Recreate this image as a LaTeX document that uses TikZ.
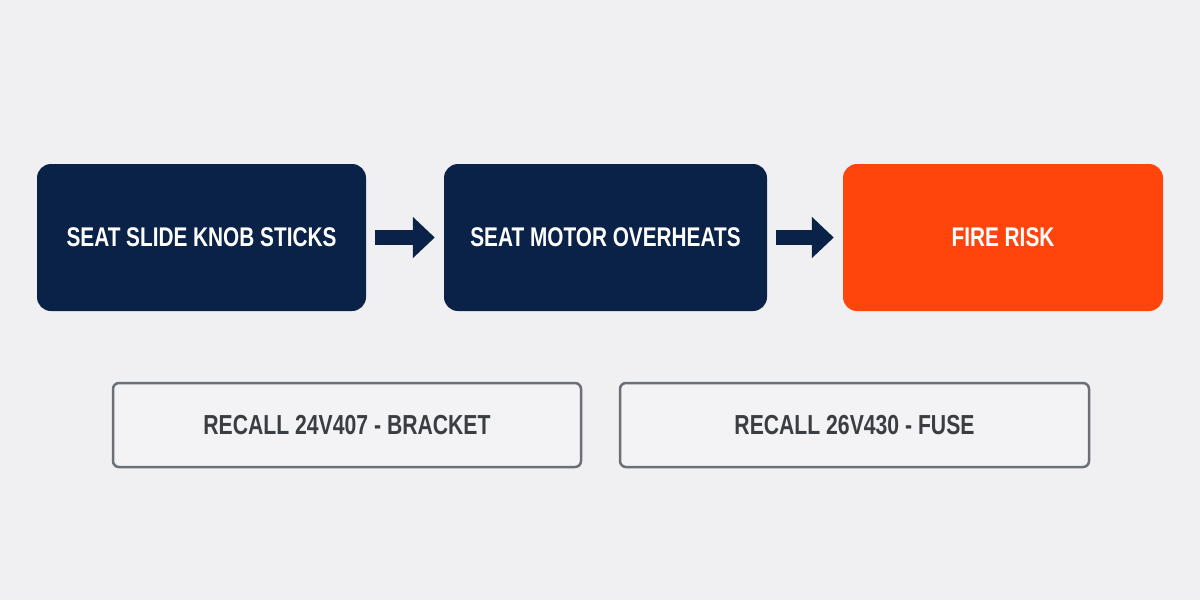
\documentclass[tikz,border=0pt]{standalone}
\usepackage{fontspec}
\setmainfont{Liberation Sans}
\newfontfamily\condfont[FakeStretch=0.77]{Liberation Sans}
\usetikzlibrary{arrows.meta}
\definecolor{bgc}{HTML}{F0F0F2}
\definecolor{navy}{HTML}{0A2248}
\definecolor{fireor}{HTML}{FF450B}
\definecolor{recallgray}{HTML}{6B7078}
\definecolor{recalltext}{HTML}{3A3D42}
\definecolor{recallfill}{HTML}{F3F3F5}
\tikzset{
  stepbox/.style={rounded corners=14pt, inner sep=0pt, minimum height=147pt,
    text=white, font=\condfont\bfseries\fontsize{27}{30}\selectfont},
  navybox/.style={stepbox, fill=navy},
  firebox/.style={stepbox, fill=fireor},
  recallbox/.style={rounded corners=6pt, draw=recallgray, line width=2.5pt, fill=recallfill,
    minimum width=468pt, minimum height=84pt, inner sep=0pt,
    text=recalltext, font=\condfont\bfseries\fontsize{27.5}{30}\selectfont},
  flowarrow/.style={draw=navy, line width=15pt, shorten <=9pt, shorten >=9pt,
    -{Triangle[length=22pt,width=40pt]}}
}
\begin{document}
\begin{tikzpicture}[x=1pt,y=-1pt]
\fill[bgc] (0,0) rectangle (1200,600);
\useasboundingbox (0,0) rectangle (1200,600);
\node[navybox, minimum width=329pt] (a) at (201.5,237.5) {SEAT SLIDE KNOB STICKS};
\node[navybox, minimum width=323pt] (b) at (605.5,237.5) {SEAT MOTOR OVERHEATS};
\node[firebox, minimum width=320pt] (c) at (1003,237.5) {FIRE RISK};
\draw[flowarrow] (a.east) -- (b.west);
\draw[flowarrow] (b.east) -- (c.west);
\node[recallbox] (r1) at (347,425) {RECALL 24V407 - BRACKET};
\node[recallbox, minimum width=469pt] (r2) at (854.5,425) {RECALL 26V430 - FUSE};
\end{tikzpicture}
\end{document}
